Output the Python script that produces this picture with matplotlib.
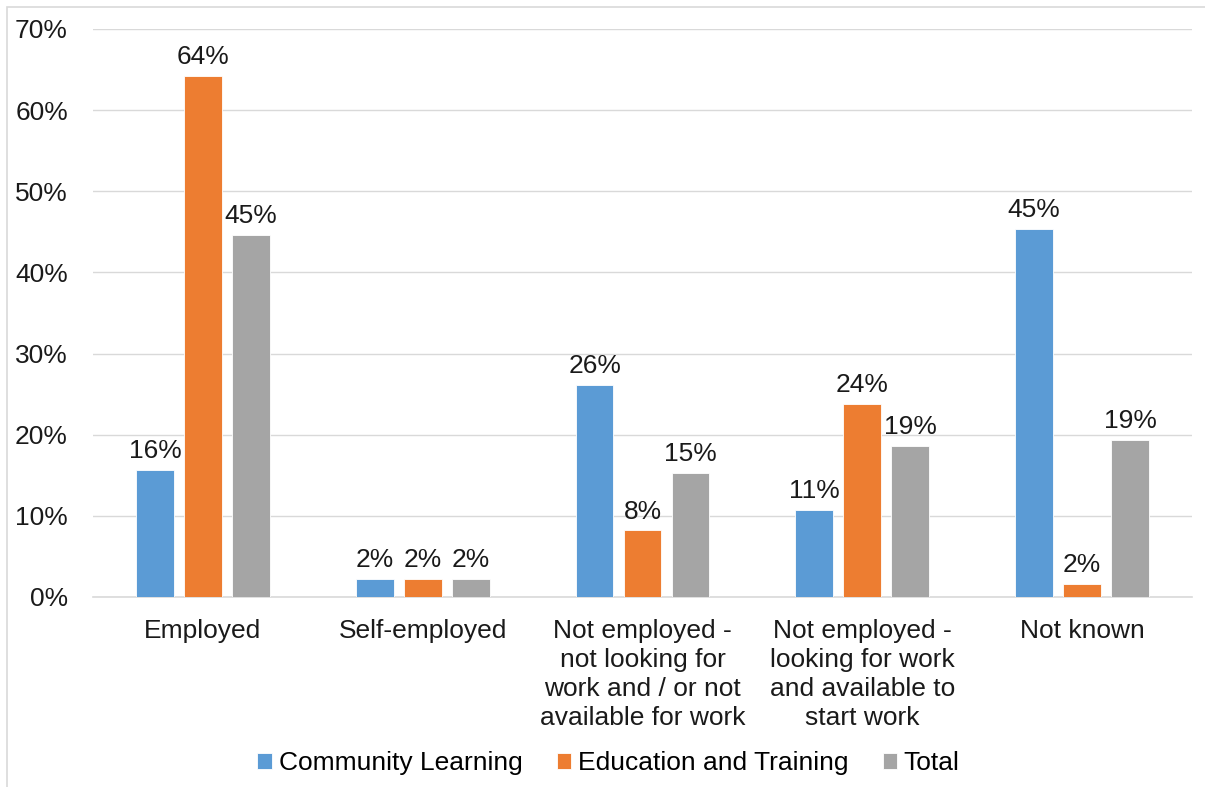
import matplotlib
matplotlib.use("Agg")
import matplotlib.pyplot as plt
from matplotlib.patches import Rectangle
from matplotlib.ticker import FuncFormatter, MultipleLocator
import numpy as np

plt.rcParams['font.family'] = ['Liberation Sans', 'DejaVu Sans']

categories = [
    "Employed",
    "Self-employed",
    "Not employed -\nnot looking for\nwork and / or not\navailable for work",
    "Not employed -\nlooking for work\nand available to\nstart work",
    "Not known",
]
series_names = ["Community Learning", "Education and Training", "Total"]
community_learning = [15.7, 2.2, 26.1, 10.7, 45.3]
education_training = [64.2, 2.2, 8.2, 23.8, 1.6]
total = [44.6, 2.2, 15.3, 18.6, 19.3]
colors = ["#5B9BD5", "#ED7D31", "#A5A5A5"]

W, H = 1205, 787
fig = plt.figure(figsize=(W / 100, H / 100), dpi=100)
ax = fig.add_axes([93 / W, 1 - 597 / H, (1192 - 93) / W, (597 - 29) / H])

x = np.arange(len(categories))
width = 0.172
step = 0.218
fs = 19

for i, (vals, name, col) in enumerate(zip([community_learning, education_training, total], series_names, colors)):
    pos = x + (i - 1) * step
    bars = ax.bar(pos, vals, width, color=col, label=name, zorder=3,
                  edgecolor="white", linewidth=0.6)
    for b, v in zip(bars, vals):
        ax.annotate(f"{v:.0f}%", (b.get_x() + b.get_width() / 2, v),
                    xytext=(0, 5), textcoords="offset points",
                    ha="center", va="bottom", fontsize=fs, color="#1a1a1a")

ax.set_xlim(-0.5, len(categories) - 0.5)
ax.set_ylim(0, 70)
ax.yaxis.set_major_locator(MultipleLocator(10))
ax.yaxis.set_major_formatter(FuncFormatter(lambda v, p: f"{v:.0f}%"))
ax.grid(axis="y", color="#D9D9D9", linewidth=1.0, zorder=0)
for s in ["top", "right", "left"]:
    ax.spines[s].set_visible(False)
ax.spines["bottom"].set_color("#D9D9D9")
ax.spines["bottom"].set_linewidth(1.2)
ax.set_xticks(x)
ax.set_xticklabels(categories, fontsize=fs, linespacing=1.27, va="top")
ax.tick_params(axis="x", length=0, pad=15.5, labelcolor="#1a1a1a")
ax.tick_params(axis="y", length=0, pad=18, labelsize=fs, labelcolor="#1a1a1a")

handles, labels = ax.get_legend_handles_labels()
fig.legend(handles, labels, loc="center", bbox_to_anchor=(0.505, 1 - 763 / H),
           ncol=3, frameon=False, fontsize=fs, handlelength=0.55, handleheight=0.55,
           handletextpad=0.25, columnspacing=1.3)

# outer frame line (left and top edges)
fig.patches.append(Rectangle((7 / W, -0.1), 1.2, 1 - 7 / H + 0.1, transform=fig.transFigure,
                             fill=False, edgecolor="#D9D9D9", linewidth=1.2))

fig.savefig("out.png", dpi=100)
